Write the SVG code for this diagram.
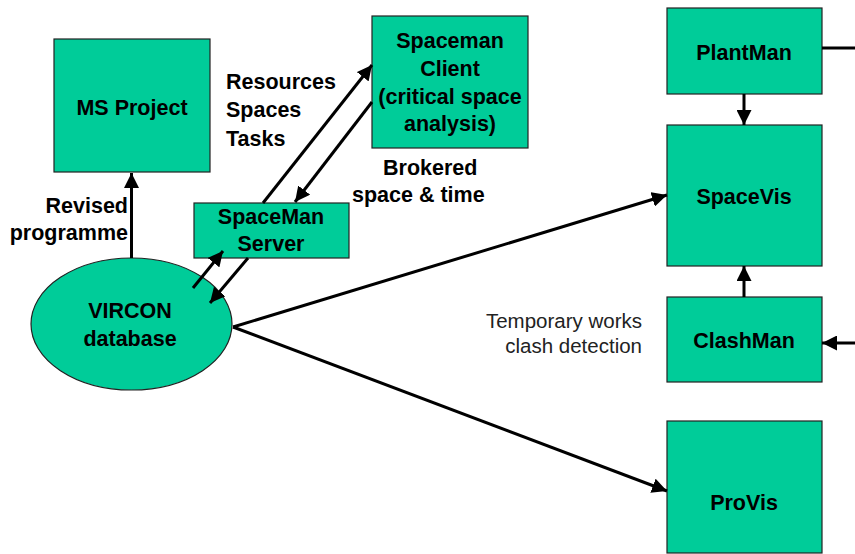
<svg xmlns="http://www.w3.org/2000/svg" width="855" height="554" viewBox="0 0 855 554">
  <style>
    .box { fill: #00CC99; stroke: #222; stroke-width: 1.2; }
    .lbl { font-family: "Liberation Sans", Arial, sans-serif; font-size: 21.5px; font-weight: bold; fill: #000; }
    .mid { text-anchor: middle; }
    .note { font-family: "Liberation Sans", Arial, sans-serif; font-size: 20.5px; fill: #222; text-anchor: end; }
    .wire { stroke: #000; stroke-width: 3; fill: none; }
    .arr { marker-end: url(#head); }
  </style>
  <defs>
    <marker id="head" viewBox="0 0 10 10" refX="10" refY="5" markerWidth="5" markerHeight="5" orient="auto">
      <path d="M0,0 L10,5 L0,10 Z" fill="#000"/>
    </marker>
  </defs>
  <rect width="855" height="554" fill="#fff"/>

  <g id="ms-project">
    <rect class="box" x="54" y="39" width="156" height="133"/>
    <text class="lbl mid" x="132" y="115">MS Project</text>
  </g>

  <g id="spaceman-client">
    <rect class="box" x="372" y="16" width="156" height="132"/>
    <text class="lbl mid" x="450" y="48">Spaceman</text>
    <text class="lbl mid" x="450" y="76">Client</text>
    <text class="lbl mid" x="450" y="104">(critical space</text>
    <text class="lbl mid" x="450" y="131">analysis)</text>
  </g>

  <g id="spaceman-server">
    <rect class="box" x="194" y="203" width="155" height="55"/>
    <text class="lbl mid" x="271" y="224">SpaceMan</text>
    <text class="lbl mid" x="271" y="251">Server</text>
  </g>

  <g id="vircon-database">
    <ellipse class="box" cx="131.5" cy="324" rx="100.5" ry="66"/>
    <text class="lbl mid" x="130" y="318">VIRCON</text>
    <text class="lbl mid" x="130" y="346">database</text>
  </g>

  <g id="plantman">
    <rect class="box" x="667" y="8" width="155" height="86"/>
    <text class="lbl mid" x="744" y="60">PlantMan</text>
  </g>

  <g id="spacevis">
    <rect class="box" x="667" y="125" width="155" height="141"/>
    <text class="lbl mid" x="744" y="204">SpaceVis</text>
  </g>

  <g id="clashman">
    <rect class="box" x="667" y="297" width="155" height="85"/>
    <text class="lbl mid" x="744" y="348">ClashMan</text>
  </g>

  <g id="provis">
    <rect class="box" x="667" y="421" width="155" height="132"/>
    <text class="lbl mid" x="744" y="510">ProVis</text>
  </g>

  <!-- connectors, drawn over the nodes -->
  <g id="connectors">
    <line class="wire arr" x1="131.5" y1="258" x2="131.5" y2="173"/>
    <line class="wire arr" x1="193" y1="288" x2="223" y2="251"/>
    <line class="wire arr" x1="248" y1="258" x2="210" y2="303"/>
    <line class="wire arr" x1="263" y1="203" x2="372" y2="65"/>
    <line class="wire arr" x1="372" y1="102" x2="295" y2="202"/>
    <line class="wire arr" x1="233" y1="327" x2="667" y2="195"/>
    <line class="wire arr" x1="233" y1="327" x2="667" y2="491"/>
    <line class="wire arr" x1="744" y1="94" x2="744" y2="125"/>
    <line class="wire arr" x1="744" y1="297" x2="744" y2="266"/>
    <line class="wire" x1="822" y1="48" x2="856" y2="48"/>
    <line class="wire arr" x1="856" y1="343" x2="822" y2="343"/>
  </g>

  <!-- connector labels -->
  <g id="edge-labels">
    <text class="lbl" x="226" y="89">Resources</text>
    <text class="lbl" x="226" y="117">Spaces</text>
    <text class="lbl" x="226" y="146">Tasks</text>
    <text class="lbl" x="383" y="175">Brokered</text>
    <text class="lbl" x="352" y="202">space &amp; time</text>
    <text class="lbl" x="128" y="213" text-anchor="end">Revised</text>
    <text class="lbl" x="128" y="240" text-anchor="end">programme</text>
    <text class="note" x="642" y="328">Temporary works</text>
    <text class="note" x="642" y="353">clash detection</text>
  </g>
</svg>
